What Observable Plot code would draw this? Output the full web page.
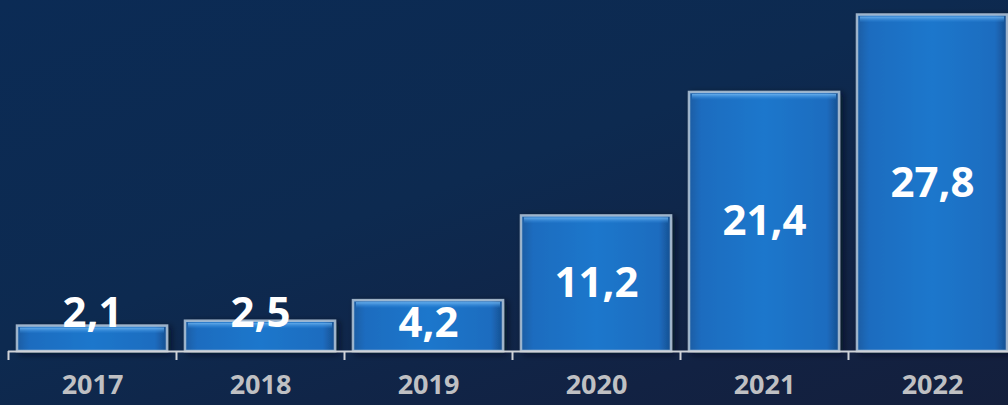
<!DOCTYPE html>
<html>
<head>
<meta charset="utf-8">
<script src="https://cdn.jsdelivr.net/npm/d3@7"></script>
<script src="https://cdn.jsdelivr.net/npm/@observablehq/plot@0.6"></script>
<style>
  html, body { margin: 0; padding: 0; }
  body {
    width: 1008px; height: 405px; overflow: hidden;
    background: linear-gradient(160deg, #0b2b55 0%, #0d2a50 45%, #122243 80%, #141f3c 100%);
    font-family: "Open Sans", sans-serif;
  }
  #chart svg { display: block; background: transparent; }
</style>
</head>
<body>
<div id="chart"></div>
<script>
const years = ["2017", "2018", "2019", "2020", "2021", "2022"];
const values = [2.1, 2.5, 4.2, 11.2, 21.4, 27.8];

const data = years.map((year, i) => ({year, value: values[i]}));
const fmt = v => v.toFixed(1).replace(".", ",");

const width = 1008, height = 405;
const xRange = [8, 1016];
const step = (xRange[1] - xRange[0]) / years.length;
const yDomain = [0, 29];
const marginBottom = 54;
const pxPerUnit = (height - marginBottom) / (yDomain[1] - yDomain[0]);

const chart = Plot.plot({
  width, height,
  marginTop: 0, marginBottom, marginLeft: 8, marginRight: 0,
  style: {background: "transparent", overflow: "visible"},
  x: {domain: years, range: xRange, paddingInner: 0.107, paddingOuter: 0.0535, axis: null},
  y: {domain: yDomain, axis: null},
  marks: [
    Plot.barY(data, {x: "year", y: "value", fill: "url(#barGrad)", stroke: "#b3c6d8", strokeWidth: 2.5, strokeOpacity: 0.85, className: "bars"}),
    Plot.barY(data, {x: "year", y1: d => d.value, y2: d => d.value - 8 / pxPerUnit, fill: "url(#topGrad)", insetLeft: 3, insetRight: 3, insetTop: 2}),
    Plot.ruleY([0], {stroke: "#d0d3d8", strokeWidth: 2}),
    Plot.ruleX(years, {x: d => d, dx: -step / 2, y1: 0, y2: -9 / pxPerUnit, stroke: "#d0d3d8", strokeWidth: 2}),
    Plot.text(data, {
      x: "year",
      y: d => d.value < 3 ? 3.15 : Math.max(d.value / 2, 2.3),
      text: d => fmt(d.value),
      fill: "white", fontSize: 42, fontWeight: 700, fontFamily: "Open Sans"
    }),
    Plot.text(years, {
      x: d => d, frameAnchor: "bottom", dy: 42, text: d => d,
      fill: "#bfc0c3", fontSize: 27, fontWeight: 700, fontFamily: "Open Sans"
    })
  ]
});

const svg = d3.select(chart);
const defs = svg.insert("defs", ":first-child");
const g = defs.append("linearGradient").attr("id", "barGrad").attr("x1", 0).attr("x2", 1).attr("y1", 0).attr("y2", 0);
g.append("stop").attr("offset", "0%").attr("stop-color", "#1b5da3");
g.append("stop").attr("offset", "8%").attr("stop-color", "#1c6cbf");
g.append("stop").attr("offset", "50%").attr("stop-color", "#1f77cc");
g.append("stop").attr("offset", "92%").attr("stop-color", "#1c6cbf");
g.append("stop").attr("offset", "100%").attr("stop-color", "#174f8f");
const t = defs.append("linearGradient").attr("id", "topGrad").attr("x1", 0).attr("x2", 0).attr("y1", 0).attr("y2", 1);
t.append("stop").attr("offset", "0%").attr("stop-color", "#6fb4ef").attr("stop-opacity", 0.9);
t.append("stop").attr("offset", "100%").attr("stop-color", "#2f8ae0").attr("stop-opacity", 0);
const f = defs.append("filter").attr("id", "shadow").attr("x", "-10%").attr("y", "-10%").attr("width", "130%").attr("height", "130%");
f.append("feDropShadow").attr("dx", 3).attr("dy", 2).attr("stdDeviation", 3).attr("flood-color", "#050d1c").attr("flood-opacity", 0.7);
svg.selectAll("g.bars").attr("filter", "url(#shadow)");

document.getElementById("chart").appendChild(chart);
</script>
</body>
</html>
